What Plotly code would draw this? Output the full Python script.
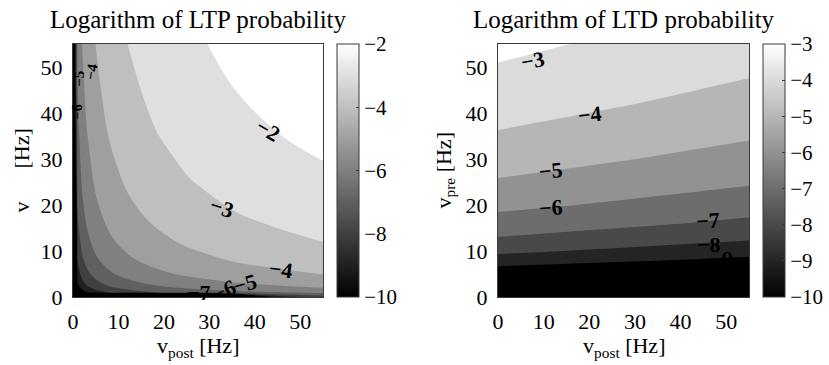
import plotly.graph_objects as go

# ---------------- data ----------------
# LTP panel: grid nodes (Hz) and log-probability values z[row=y][col=x]
ltp_nodes = [0, 1, 2, 3, 5, 8, 12, 18, 25, 35, 45, 55]
ltp_z = [
    [-25, -25, -25, -25, -25, -25, -25, -25, -22, -14, -8.6, -7.6],
    [-25, -10.27, -9.49, -9.04, -8.47, -7.94, -7.49, -7.03, -6.66, -6.29, -6.01, -5.78],
    [-25, -9.49, -8.72, -8.26, -7.69, -7.16, -6.71, -6.26, -5.89, -5.51, -5.23, -5.00],
    [-25, -9.04, -8.26, -7.81, -7.24, -6.71, -6.26, -5.80, -5.43, -5.06, -4.77, -4.55],
    [-25, -8.47, -7.69, -7.24, -6.66, -6.14, -5.68, -5.23, -4.86, -4.48, -4.20, -3.98],
    [-22, -7.94, -7.16, -6.71, -6.14, -5.61, -5.16, -4.70, -4.33, -3.96, -3.68, -3.45],
    [-20, -7.49, -6.71, -6.26, -5.68, -5.16, -4.70, -4.25, -3.88, -3.50, -3.22, -3.00],
    [-18, -7.03, -6.26, -5.80, -5.23, -4.70, -4.25, -3.79, -3.43, -3.05, -2.77, -2.54],
    [-15, -6.66, -5.89, -5.43, -4.86, -4.33, -3.88, -3.43, -3.06, -2.68, -2.40, -2.17],
    [-13, -6.29, -5.51, -5.06, -4.48, -3.96, -3.50, -3.05, -2.68, -2.30, -2.02, -1.80],
    [-12, -6.01, -5.23, -4.77, -4.20, -3.68, -3.22, -2.77, -2.40, -2.02, -1.74, -1.52],
    [-12, -5.78, -5.00, -4.55, -3.98, -3.45, -3.00, -2.54, -2.17, -1.80, -1.52, -1.29],
]
ltp_levels = [-10, -2]          # first / last contour level
ltp_label_text = ["−2", "−3", "−4", "−5", "−7", "−6", "−4", "−5", "−6"]
ltp_label_x = [43, 32.7, 45.8, 37.9, 27.8, 33.2, 4.0, 1.4, 0.9]
ltp_label_y = [36.1, 19.4, 6.0, 3.0, 0.9, 1.5, 49.0, 47.5, 40.2]

# LTD panel
ltd_x = [0, 11, 22, 33, 44, 55]
ltd_y = [0, 2, 4, 6, 8, 10, 13, 16, 20, 25, 30, 36, 42, 48, 55]
ltd_z = [
    [-14.00, -14.00, -14.00, -14.00, -14.00, -14.00],
    [-12.53, -12.69, -12.85, -13.01, -13.17, -13.33],
    [-10.49, -10.65, -10.81, -10.97, -11.13, -11.29],
    [-9.29, -9.45, -9.61, -9.77, -9.93, -10.09],
    [-8.45, -8.61, -8.77, -8.93, -9.09, -9.25],
    [-7.79, -7.95, -8.11, -8.27, -8.43, -8.59],
    [-7.02, -7.18, -7.34, -7.50, -7.66, -7.82],
    [-6.41, -6.57, -6.73, -6.89, -7.05, -7.21],
    [-5.75, -5.91, -6.07, -6.23, -6.39, -6.55],
    [-5.09, -5.25, -5.41, -5.57, -5.73, -5.89],
    [-4.56, -4.72, -4.88, -5.04, -5.20, -5.36],
    [-4.02, -4.18, -4.34, -4.50, -4.66, -4.82],
    [-3.56, -3.72, -3.88, -4.04, -4.20, -4.36],
    [-3.17, -3.33, -3.49, -3.65, -3.81, -3.97],
    [-2.77, -2.93, -3.09, -3.25, -3.41, -3.57],
]
ltd_levels = [-10, -3]
ltd_label_text = ["−3", "−4", "−5", "−6", "−7", "−8", "9"]
ltd_label_x = [7.7, 20.1, 11.7, 11.7, 46.1, 46.3, 50.2]
ltd_label_y = [51.4, 39.7, 27.4, 19.5, 16.6, 11.4, 8.4]

axis_ticks = [0, 10, 20, 30, 40, 50]

# ---------------- styling ----------------
W, H = 829, 365
FONT = "Liberation Serif"
FRAME = "#3a3a3a"


def band_scale(lo, hi):
    """Step colours for filled contour bands (MATLAB-like gray)."""
    n = hi - lo + 1            # number of levels
    steps = n + 1              # bands incl. below-first & above-last
    out = []
    for k in range(steps):
        g = max(0, k - 1) / (n - 1)
        v = int(round(255 * g))
        out.append([k / (steps - 1), f"rgb({v},{v},{v})"])
    return out


def px_x(p):
    return p / W


def px_y(p):
    return 1 - p / H


panels = [
    dict(x0=73, x1=323, cb=337, levels=ltp_levels, xs=ltp_nodes, ys=ltp_nodes, z=ltp_z,
         lt=ltp_label_text, lx=ltp_label_x, ly=ltp_label_y,
         angles=[30, 18, 8, -15, 0, -25, -80, -90, -90],
         sizes=[22, 22, 22, 22, 22, 22, 15, 15, 14],
         title="Logarithm of LTP probability",
         ytitle="v\u00a0\u00a0\u00a0\u00a0\u00a0\u00a0[Hz]", ytx=21),
    dict(x0=498, x1=749, cb=763, levels=ltd_levels, xs=ltd_x, ys=ltd_y, z=ltd_z,
         lt=ltd_label_text, lx=ltd_label_x, ly=ltd_label_y,
         angles=[-10, -6, -6, -4, -3, 0, 0],
         sizes=[22, 22, 22, 22, 22, 22, 22],
         title="Logarithm of LTD probability",
         ytitle="v<sub>pre</sub> [Hz]", ytx=445),
]

top, bot = 44, 297
fig = go.Figure()
annotations = []
layout_axes = {}

for i, p in enumerate(panels):
    sfx = "" if i == 0 else str(i + 1)
    xa, ya = "x" + sfx, "y" + sfx
    lo, hi = p["levels"]
    fig.add_trace(go.Contour(
        x=p["xs"], y=p["ys"], z=p["z"],
        autocontour=False,
        contours=dict(start=lo, end=hi, size=1, coloring="fill", showlines=False),
        colorscale=band_scale(lo, hi),
        showscale=False, line=dict(width=0),
        xaxis=xa, yaxis=ya, hoverinfo="skip",
    ))
    # continuous gray colour bar
    fig.add_trace(go.Scatter(
        x=[p["xs"][-1]], y=[p["ys"][-1]], mode="markers", xaxis=xa, yaxis=ya,
        marker=dict(size=1, opacity=0, color=[lo], cmin=lo, cmax=hi,
                    colorscale=[[0, "black"], [1, "white"]], showscale=True,
                    colorbar=dict(
                        x=px_x(p["cb"]), xanchor="left", y=(px_y(top) + px_y(bot)) / 2,
                        yanchor="middle", len=(bot - top) / H, lenmode="fraction",
                        thickness=22, thicknessmode="pixels", xpad=0, ypad=0,
                        outlinewidth=1, outlinecolor=FRAME,
                        ticks="inside", ticklen=3, tickcolor=FRAME,
                        tickvals=list(range(lo, hi + 1, 2 if i == 0 else 1)),
                        tickfont=dict(family=FONT, size=21, color="black"),
                    )),
        hoverinfo="skip", showlegend=False,
    ))
    ax = dict(domain=[px_x(p["x0"]), px_x(p["x1"])], range=[0, 55], tickvals=axis_ticks,
              showline=True, mirror=True, linecolor=FRAME, linewidth=1, ticks="",
              showgrid=False, zeroline=False,
              tickfont=dict(family=FONT, size=22, color="black"))
    layout_axes["xaxis" + sfx] = dict(ax, anchor=ya, ticklabelstandoff=5)
    layout_axes["yaxis" + sfx] = dict(ax, domain=[px_y(bot), px_y(top)], anchor=xa,
                                      ticklabelstandoff=5)

    cx = (p["x0"] + p["x1"]) / 2
    annotations.append(dict(text=p["title"], x=px_x(cx), y=px_y(19), xref="paper", yref="paper",
                            showarrow=False, xanchor="center", yanchor="middle",
                            font=dict(family=FONT, size=25, color="black")))
    annotations.append(dict(text="v<sub>post</sub> [Hz]", x=px_x(cx), y=px_y(347),
                            xref="paper", yref="paper", showarrow=False,
                            xanchor="center", yanchor="middle",
                            font=dict(family=FONT, size=22, color="black")))
    annotations.append(dict(text=p["ytitle"], x=px_x(p["ytx"]), y=(px_y(top) + px_y(bot)) / 2,
                            xref="paper", yref="paper", showarrow=False, textangle=-90,
                            xanchor="center", yanchor="middle",
                            font=dict(family=FONT, size=22, color="black")))
    for t, lx, ly, ang, sz in zip(p["lt"], p["lx"], p["ly"], p["angles"], p["sizes"]):
        annotations.append(dict(text=t, x=lx, y=ly, xref=xa, yref=ya, showarrow=False,
                                textangle=ang, xanchor="center", yanchor="middle",
                                font=dict(family=FONT, size=sz, color="black", weight="bold")))

fig.update_layout(
    width=W, height=H, autosize=False,
    margin=dict(l=0, r=0, t=0, b=0, autoexpand=False),
    paper_bgcolor="white", plot_bgcolor="white",
    showlegend=False, annotations=annotations,
    **layout_axes,
)

fig.write_html("out.html", config={"displayModeBar": False},
               post_script="document.body.style.margin='0px';document.body.style.overflow='hidden';")
